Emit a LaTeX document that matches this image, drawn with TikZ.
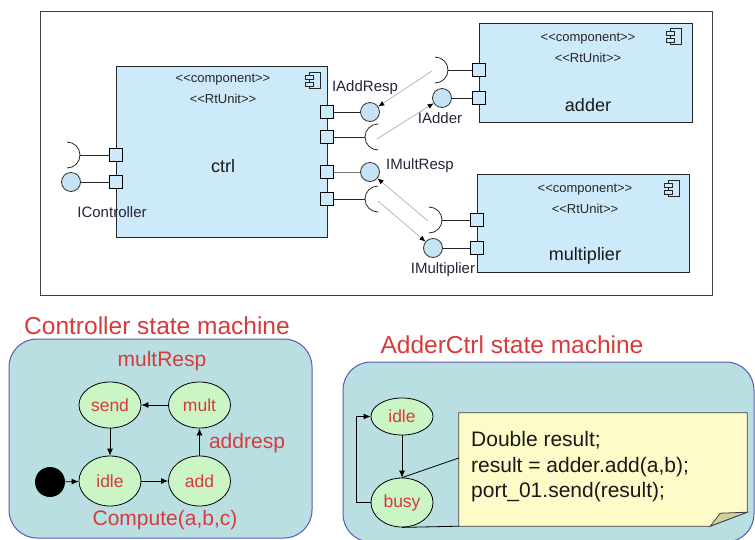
\documentclass[tikz,border=0pt]{standalone}
\usepackage{fontspec}
\setmainfont{Liberation Sans}
\usetikzlibrary{arrows.meta,shapes.geometric}
\definecolor{compfill}{HTML}{CDEAFB}
\definecolor{ballfill}{HTML}{C6E2F5}
\definecolor{smfill}{HTML}{B9DFE3}
\definecolor{smborder}{HTML}{5A5AB0}
\definecolor{stgreen}{HTML}{CCF5C5}
\definecolor{smred}{HTML}{D63B3B}
\definecolor{notefill}{HTML}{FDFCC9}
\definecolor{foldfill}{HTML}{D3CFA3}
\definecolor{lbltext}{HTML}{2A2238}
\tikzset{
 comp/.style={draw=black!85, fill=compfill, line width=0.9pt, inner sep=0},
 port/.style={draw=black, fill=compfill, minimum size=13pt, inner sep=0, line width=0.8pt},
 ball/.style={circle, draw=black!80, fill=ballfill, minimum size=19pt, inner sep=0, line width=0.8pt},
 wire/.style={line width=0.8pt, draw=black!85},
 dep/.style={draw=black!35, line width=0.6pt, -{Latex[length=6pt,width=5pt,black]}},
 stereo/.style={font=\fontsize{13}{15}\selectfont, text=black!85},
 cname/.style={font=\fontsize{18}{20}\selectfont, text=black!90},
 iflabel/.style={font=\fontsize{15}{17}\selectfont, text=lbltext},
 smbox/.style={rectangle, draw=smborder, fill=smfill, rounded corners=28pt, line width=1pt, inner sep=0},
 state/.style={ellipse, draw=black, fill=stgreen, line width=0.8pt, minimum width=62pt, inner sep=0, font=\fontsize{17.5}{19}\selectfont, text=smred},
 trans/.style={-{Latex[length=7pt,width=6pt]}, line width=0.8pt},
 smlabel/.style={text=smred, font=\fontsize{21}{23}\selectfont},
 smtitle/.style={text=smred, font=\fontsize{24.5}{27}\selectfont},
 notetext/.style={align=left, inner sep=0, font=\fontsize{21}{25.5}\selectfont, text=black!90},
 compicon/.pic={
  \draw[line width=0.9pt, draw=black!85, fill=compfill] (-4,-8) rectangle (7,8);
  \draw[line width=0.9pt, draw=black!85, fill=compfill] (-8,-5) rectangle (0,-1);
  \draw[line width=0.9pt, draw=black!85, fill=compfill] (-8,2) rectangle (0,6);
 }
}
\begin{document}
\begin{tikzpicture}[x=1pt,y=-1pt]
\clip (0,0) rectangle (755,539);
\fill[white] (0,0) rectangle (755,539);
% ---------------- top frame
\draw[draw=black!75, line width=1pt] (40,11) rectangle (712,295);
% ---------------- components
\node[comp, minimum width=211pt, minimum height=171pt] (ctrl) at (221.5,151.5) {};
\node[stereo] (ctrlst1) at (223,80) {<{}<component>{}>};
\node[stereo] (ctrlst2) at (223,99) {<{}<RtUnit>{}>};
\node[cname] (ctrlname) at (223,166) {ctrl};
\pic at (313,80) {compicon};

\node[comp, minimum width=213pt, minimum height=99pt] (adder) at (585.5,72.5) {};
\node[stereo] (addst1) at (588,39) {<{}<component>{}>};
\node[stereo] (addst2) at (588,58) {<{}<RtUnit>{}>};
\node[cname] (addname) at (588,105) {adder};
\pic at (674,36) {compicon};

\node[comp, minimum width=212pt, minimum height=98pt] (mult) at (583,223) {};
\node[stereo] (mulst1) at (585,190) {<{}<component>{}>};
\node[stereo] (mulst2) at (585,209) {<{}<RtUnit>{}>};
\node[cname] (mulname) at (585,256) {multiplier};
\pic at (672,188) {compicon};

% ---------------- ports
\node[port] (pL1) at (116,155) {};
\node[port] (pL2) at (116,182) {};
\node[port] (pR1) at (327,112) {};
\node[port] (pR2) at (327,137) {};
\node[port] (pR3) at (327,172) {};
\node[port] (pR4) at (327,199) {};
\node[port] (pA1) at (479,70) {};
\node[port] (pA2) at (479,98) {};
\node[port] (pM1) at (477,220) {};
\node[port] (pM2) at (477,248) {};

% ---------------- balls
\node[ball] (bC) at (71,182) {};
\node[ball] (bAR) at (370,112) {};
\node[ball] (bMR) at (370,172) {};
\node[ball] (bAd) at (442,98) {};
\node[ball] (bMu) at (433,248) {};

% ---------------- sockets
\coordinate (sC) at (80,155);
\coordinate (sR2) at (365,137);
\coordinate (sR4) at (365,199);
\coordinate (sA) at (448,70);
\coordinate (sM) at (442,220);
\draw[wire] (sC) ++(-13,-13) arc[start angle=90, end angle=-90, radius=13pt];
\draw[wire] (sA) ++(-13,-13) arc[start angle=90, end angle=-90, radius=13pt];
\draw[wire] (sM) ++(-13,-13) arc[start angle=90, end angle=-90, radius=13pt];
\draw[wire] (sR2) ++(13,-13) arc[start angle=90, end angle=270, radius=13pt];
\draw[wire] (sR4) ++(13,-13) arc[start angle=90, end angle=270, radius=13pt];

% ---------------- port wires
\draw[wire] (pL1.west) -- (sC);
\draw[wire] (pL2.west) -- (bC.east);
\draw[wire] (pR1.east) -- (bAR.west);
\draw[wire] (pR2.east) -- (sR2);
\draw[wire, draw=black!55] (pR3.east) -- (bMR.west);
\draw[wire] (pR4.east) -- (sR4);
\draw[wire] (pA1.west) -- (sA);
\draw[wire] (pA2.west) -- (bAd.east);
\draw[wire] (pM1.west) -- (sM);
\draw[wire] (pM2.west) -- (bMu.east);

% ---------------- dependency arrows
\coordinate (dA) at (432,71);
\coordinate (dR2) at (377,139);
\coordinate (dM) at (428,221);
\coordinate (dR4) at (378,201);
\draw[dep] (dA) -- (bAR);
\draw[dep] (dR2) -- (bAd);
\draw[dep] (dM) -- (bMR);
\draw[dep] (dR4) -- (bMu);

% ---------------- interface labels
\node[iflabel] (lC) at (112,212) {IController};
\node[iflabel] (lAR) at (365,88) {IAddResp};
\node[iflabel] (lAd) at (440,118) {IAdder};
\node[iflabel] (lMR) at (420,166) {IMultResp};
\node[iflabel] (lMu) at (443,270) {IMultiplier};

% ---------------- Controller state machine
\node[smtitle] (t1) at (157,326) {Controller state machine};
\node[smbox, minimum width=303pt, minimum height=199pt] (sm1) at (160.5,438.5) {};
\node[smlabel] (lmr) at (162,361) {multResp};
\node[smlabel] (lar) at (247,443) {addresp};
\node[smlabel] (lcp) at (165,520) {Compute(a,b,c)};
\node[state, minimum height=46pt] (send) at (110,405) {send};
\node[state, minimum height=46pt] (mlt) at (199.5,405) {mult};
\node[state, minimum height=50pt] (idle) at (110,481) {idle};
\node[state, minimum height=50pt] (add) at (199.5,481) {add};
\node[circle, fill=black, minimum size=30pt, inner sep=0] (start) at (50,482) {};
\draw[trans] (start) -- (idle);
\draw[trans] (idle) -- (add);
\draw[trans] (add) -- (mlt);
\draw[trans] (mlt) -- (send);
\draw[trans] (send) -- (idle);

% ---------------- AdderCtrl state machine
\node[smtitle] (t2) at (512,345) {AdderCtrl state machine};
\node[smbox, minimum width=411pt, minimum height=180pt] (sm2) at (548.5,452) {};
\node[state, minimum height=37pt] (idle2) at (402,416.5) {idle};
\node[state, minimum height=49pt] (busy) at (402,502.5) {busy};
\draw[trans] (idle2) -- (busy);
\coordinate (loopx) at (356,0);
\draw[trans] (busy.west) -- (busy.west -| loopx) -- (idle2.west -| loopx) -- (idle2.west);
\node[minimum width=288pt, minimum height=113pt, inner sep=0] (note) at (603,469.5) {};
\filldraw[draw=black!75, fill=notefill, line width=0.8pt]
  (note.north west) -- (note.north east) -- ([yshift=14pt]note.south east)
  -- ([xshift=-37pt]note.south east) -- (note.south west) -- cycle;
\filldraw[draw=black!75, fill=foldfill, line width=0.8pt]
  ([xshift=-37pt]note.south east) -- ([xshift=-27pt,yshift=13pt]note.south east)
  -- ([yshift=14pt]note.south east) -- cycle;
\node[notetext, anchor=west] (ntxt) at (471,467) {Double result;\\result = adder.add(a,b);\\port\_01.send(result);};
\draw[line width=0.8pt] ([yshift=11.5pt]note.west) -- (busy.north);
\draw[line width=0.8pt] (busy.south) -- (note.south west);
\end{tikzpicture}
\end{document}
